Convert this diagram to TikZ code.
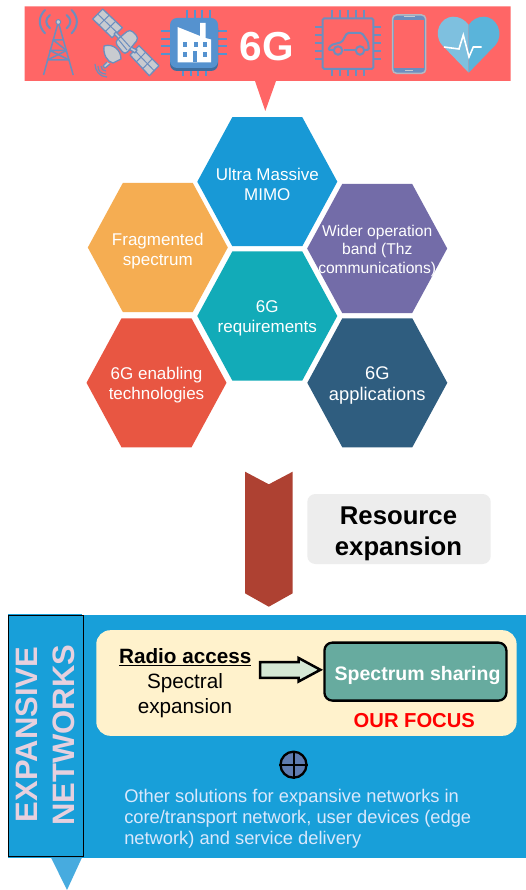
\documentclass[tikz,border=0pt]{standalone}
\usepackage{fontspec}
\setmainfont{Liberation Sans}
\usetikzlibrary{calc}
\definecolor{bannerred}{HTML}{FF6666}
\definecolor{iconblue}{HTML}{6C8EBF}
\definecolor{chipblue}{HTML}{5592CF}
\definecolor{chipdark}{HTML}{3F6E9E}
\definecolor{panelgrey}{HTML}{C8CBD0}
\definecolor{phonegrey}{HTML}{B4B8C2}
\definecolor{hexblue}{HTML}{1899D6}
\definecolor{hexorange}{HTML}{F5AD52}
\definecolor{hexpurple}{HTML}{736CA8}
\definecolor{hexteal}{HTML}{12ABB8}
\definecolor{hexred}{HTML}{E85642}
\definecolor{hexnavy}{HTML}{2F5D7F}
\definecolor{chevron}{HTML}{AE4132}
\definecolor{greybox}{HTML}{EDEDED}
\definecolor{netblue}{HTML}{189FD9}
\definecolor{tipblue}{HTML}{47ABDF}
\definecolor{cream}{HTML}{FFF2CC}
\definecolor{sagegreen}{HTML}{67AB9F}
\definecolor{palegreen}{HTML}{D5E8D4}
\definecolor{pinktext}{HTML}{E6D0DE}
\definecolor{paletext}{HTML}{DAE8FC}
\definecolor{plusblue}{HTML}{5F7BAF}
\definecolor{heartl}{HTML}{7EC0DF}
\definecolor{heartr}{HTML}{5AB4DA}
\newcommand{\fs}[2]{\fontsize{#1}{#2}\selectfont}
\tikzset{
  x=1pt,y=-1pt,
  icon/.style={draw=iconblue,line width=1.5pt,line join=round},
  wave/.style={draw=iconblue,line width=2pt,line cap=round},
  hextext/.style={text=white,align=center,font=\fs{17}{20},yshift=-2.5pt},
  panel/.style={fill=panelgrey,draw=iconblue,line width=1.3pt,line join=round},
  panelgrid/.style={draw=iconblue,line width=1pt},
  pin/.style={draw=chipblue,line width=2pt},
  carpin/.style={draw=iconblue,line width=2pt},
}
% hexagon: name, centre x, centre y, colour, text, optional style
\newcommand{\hexa}[6][]{%
  \fill[#5] (#3-70,#4) -- (#3-35,#4-64.5) -- (#3+35,#4-64.5) -- (#3+70,#4)
     -- (#3+35,#4+64.5) -- (#3-35,#4+64.5) -- cycle;
  \node[hextext,#1] (#2) at (#3,#4) {#6};%
}
\begin{document}
\begin{tikzpicture}
\useasboundingbox (0,0) rectangle (526,890);
\fill[white] (0,0) rectangle (526,890);
% banner
\fill[bannerred] (24.5,6.5) -- (510.5,6.5) -- (510.5,81) -- (276,81) -- (265.3,111) -- (255,81) -- (24.5,81) -- cycle;
% tower
\begin{scope}[icon]
  \draw (58.3,22) -- (43.5,75) (58.3,22) -- (73.2,75);
  \draw (53.2,40) -- (63.4,40) -- (53.2,40) -- (66.5,50.5) -- (47.5,60) -- (69.2,60);
  \draw (66.5,50.5) -- (50,50.5) -- (69.2,60);
  \draw[wave] (45,10) .. controls (38,17) and (38,26) .. (45,33.3);
  \draw[wave] (50,15) .. controls (45,19) and (45,24) .. (50,28.3);
  \draw[wave] (71.6,10) .. controls (78.6,17) and (78.6,26) .. (71.6,33.3);
  \draw[wave] (66.6,15) .. controls (71.6,19) and (71.6,24) .. (66.6,28.3);
\end{scope}
\fill[panelgrey,draw=iconblue,line width=1pt] (58.3,22) circle[radius=2.4];
% satellite
\coordinate (pa) at (102.7,9);
\coordinate (pb) at (92.7,19);
\coordinate (pc) at (112,37.7);
\coordinate (pd) at (122.3,27.7);
\draw[panel] (pa) -- (pb) -- (pc) -- (pd) -- cycle;
\draw[panelgrid] ($(pa)!.5!(pb)$) -- ($(pd)!.5!(pc)$)
  ($(pa)!.33!(pd)$) -- ($(pb)!.33!(pc)$) ($(pa)!.66!(pd)$) -- ($(pb)!.66!(pc)$);
\coordinate (qa) at (139,45.7);
\coordinate (qb) at (130,55);
\coordinate (qc) at (149.3,75.7);
\coordinate (qd) at (159,65.7);
\draw[panel] (qa) -- (qb) -- (qc) -- (qd) -- cycle;
\draw[panelgrid] ($(qa)!.5!(qb)$) -- ($(qd)!.5!(qc)$)
  ($(qa)!.33!(qd)$) -- ($(qb)!.33!(qc)$) ($(qa)!.66!(qd)$) -- ($(qb)!.66!(qc)$);
\draw[panel] (116,32) -- (123,39) -- (121,41) -- (114,34) -- cycle;
\draw[panel] (131,47) -- (137,50) -- (135,53) -- (129,49) -- cycle;
\draw[panel,rounded corners=4pt] (114.5,42) -- (130,29) -- (139,38) -- (125,55) -- cycle;
\draw[panelgrid] (118,39) -- (127,50) (121,37) -- (130,47);
\draw[panel] (104,46) .. controls (113,43) and (121,50) .. (121,59) -- (113,63) .. controls (107,62) and (103,54) .. (104,46) -- cycle;
\draw[panel] (107,62) -- (103,66) -- (105,68) -- (110,64);
\draw[iconblue,line width=1.2pt] (101,66) .. controls (101,69) and (103,71) .. (106,71);
\draw[iconblue,line width=1.2pt] (98,66) .. controls (98,71) and (101,74) .. (106,74);
\draw[iconblue,line width=1.2pt] (95,64) .. controls (95,71) and (100,77) .. (107,77);
% factory chip
\foreach \p in {0,1,2,3}{
  \draw[pin] ({187+\p*7.7},10) -- ({187+\p*7.7},20);
  \draw[pin] ({183+\p*7.7},66) -- ({183+\p*7.7},76);
  \draw[pin] (161,{31+\p*7.7}) -- (172,{31+\p*7.7});
  \draw[pin] (216,{31+\p*7.7}) -- (227,{31+\p*7.7});
}
\fill[chipdark,rounded corners=7pt] (170,21) rectangle (218,71);
\fill[chipblue,rounded corners=7pt] (170,18) rectangle (218,68);
\fill[white] (177.5,27) -- (200,36) -- (200,23) -- (205.5,23) -- (205.5,38) -- (211,39.5) -- (211,62.5) -- (177.5,62.5) -- cycle;
\foreach \cx in {183,193.5,203}{
  \fill[chipblue] (\cx,42.5) rectangle ++(4,5);
}
\foreach \cx in {183,203}{
  \fill[chipblue] (\cx,52) rectangle ++(4,5);
}
\fill[chipblue] (192.5,51) rectangle (197,62.5);
% 6G
\node[text=white,font=\bfseries\fs{40.5}{44}] (sixg) at (267,47) {6G};
% car chip
\draw[carpin,rounded corners=1.5pt] (322.7,18.3) rectangle (373.3,69);
\foreach \p in {0,1,2,3,4}{
  \draw[carpin] ({331.5+\p*8},10) -- ({331.5+\p*8},18);
  \draw[carpin] ({331.5+\p*8},69) -- ({331.5+\p*8},76);
  \draw[carpin] (315,{27+\p*8}) -- (322.7,{27+\p*8});
  \draw[carpin] (373.3,{27+\p*8}) -- (381,{27+\p*8});
}
\draw[carpin,line join=round,rounded corners=1.5pt]
  (334,50) -- (328,50) -- (331,45) -- (342,42) -- (347,33) -- (362,33) -- (368,42) -- (369,50) -- (365,50);
\draw[carpin] (344,50) -- (355,50);
\draw[carpin] (338,50.5) circle[radius=4.2] (360,50.5) circle[radius=4.2];
% phone
\draw[draw=phonegrey,fill=iconblue,line width=1.5pt,rounded corners=4pt] (392.5,15) rectangle (425.7,73.3);
\fill[bannerred] (394.2,20.5) rectangle (424,68);
\fill[panelgrey] (405,69.7) rectangle (413,71.5);
\fill[panelgrey] (404,16.5) rectangle (415,17.5);
% heart
\fill[heartl] (468.7,72.7) -- (442,45) .. controls (432,33) and (441,16.7) .. (453,16.7) .. controls (460,16.7) and (465,20) .. (468.7,25) -- cycle;
\fill[heartr] (468.7,72.7) -- (495.5,45) .. controls (505,33) and (496,16.7) .. (484,16.7) .. controls (477,16.7) and (472,20) .. (468.7,25) -- cycle;
\draw[white,line width=1.6pt,line join=miter] (444,47) -- (459,49) -- (463.3,35) -- (469,57) -- (473.3,47) -- (481.7,47);
% hexagons
\hexa{mimo}{267.3}{181.7}{hexblue}{Ultra Massive\\MIMO}
\hexa[yshift=-1.5pt]{frag}{157.8}{247.5}{hexorange}{Fragmented\\spectrum}
\hexa[font=\fs{15.6}{18.4},yshift=0.3pt]{wider}{377.2}{248.5}{hexpurple}{Wider operation\\band (Thz\\communications)}
\hexa{req}{267.3}{316}{hexteal}{6G\\requirements}
\hexa{enab}{156.5}{382.8}{hexred}{6G enabling\\technologies}
\hexa[font=\fs{18.3}{21.5}]{apps}{377.3}{382.8}{hexnavy}{6G\\applications}
% chevron
\fill[chevron] (245,471.7) -- (268.8,484.3) -- (292.7,471.7) -- (292.7,593.3) -- (268.8,606.7) -- (245,593.3) -- cycle;
\fill[greybox,rounded corners=8pt] (307.3,494) rectangle (490.7,564);
\node[inner sep=0pt,align=center,font=\bfseries\fs{25.7}{31}] (resource) at (398.5,534) {Resource\\expansion};
% network panel
\fill[netblue] (8,615) rectangle (526,857.5);
\fill[netblue] (8,613.5) rectangle (82,616);
\fill[tipblue] (51,857.5) -- (82,857.5) -- (67,890) -- cycle;
\node[draw=black,fill=netblue,line width=1pt,minimum width=74.8pt,minimum height=241pt,inner sep=0pt] (side) at (45.8,735.5) {};
\node[rotate=90,text=pinktext,font=\bfseries\fs{31}{32}] (expa) at (26.8,734.5) {EXPANSIVE};
\node[rotate=90,text=pinktext,font=\bfseries\fs{31}{32}] (netw) at (63.7,735) {NETWORKS};
\fill[cream,rounded corners=14pt] (96.3,630.2) rectangle (516.6,735.8);
\node[font=\bfseries\fs{20.7}{22}] (radio) at (185.3,657) {\underline{Radio access}};
\node[font=\fs{20.7}{25.5},align=center] (spectral) at (185,695.5) {Spectral\\expansion};
\node[draw=black,fill=sagegreen,line width=2.3pt,rounded corners=8pt,minimum width=182pt,minimum height=58pt,inner sep=0pt] (share) at (415.4,671.6) {};
\node[text=white,font=\bfseries\fs{19.5}{22}] (sharetext) at (417.6,675.5) {Spectrum sharing};
\node[text=red,font=\bfseries\fs{20.2}{22}] (focus) at (414.3,721) {OUR FOCUS};
\draw[fill=palegreen,draw=black,line width=2.5pt,line join=miter] (260,662) -- (298.6,662) -- (298.6,658) -- (320.4,669.8) -- (298.6,681.5) -- (298.6,677.8) -- (260,677.8) -- cycle;
\node[circle,draw=black,fill=plusblue,line width=2.3pt,minimum size=26pt,inner sep=0pt] (oplus) at (293.5,764.7) {};
\draw[black,line width=2pt] (oplus.north) -- (oplus.south) (oplus.west) -- (oplus.east);
\node[anchor=north west,inner sep=0pt,text=paletext,align=left,font=\fs{18.3}{21}] (other) at (124.1,789.3) {Other solutions for expansive networks in\\core/transport network, user devices (edge\\network) and service delivery};
\end{tikzpicture}
\end{document}
